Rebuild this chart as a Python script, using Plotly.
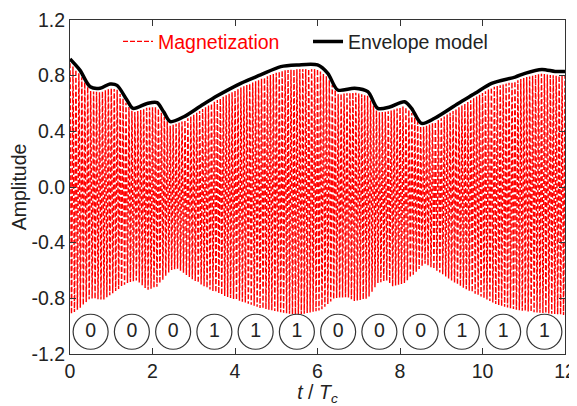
import numpy as np
import plotly.graph_objects as go

# ---- data ----
# Envelope model (black), t / Tc and amplitude
env_t = [0, 0.24, 0.49, 0.73, 0.97, 1.14, 1.38, 1.53, 1.87, 2.11, 2.27, 2.43, 2.76, 3.16, 3.57,
         4.14, 4.62, 5.11, 5.52, 6.0, 6.25, 6.49, 6.9, 7.22, 7.46, 7.75, 8.11, 8.28, 8.52, 8.84,
         9.41, 9.82, 10.22, 10.79, 11.03, 11.44, 11.76, 12.0]
env_v = [0.92, 0.84, 0.72, 0.71, 0.74, 0.73, 0.625, 0.565, 0.60, 0.606, 0.54, 0.47, 0.505, 0.58, 0.655,
         0.745, 0.805, 0.865, 0.877, 0.877, 0.817, 0.697, 0.71, 0.685, 0.565, 0.575, 0.613, 0.565, 0.457, 0.494,
         0.60, 0.673, 0.745, 0.79, 0.817, 0.845, 0.83, 0.83]

# Magnetization: upper peaks (just under the envelope)
top_t = env_t
top_v = [0.89, 0.81, 0.69, 0.68, 0.71, 0.70, 0.595, 0.535, 0.57, 0.576, 0.51, 0.44, 0.475, 0.55, 0.625,
         0.715, 0.775, 0.835, 0.847, 0.847, 0.787, 0.667, 0.68, 0.655, 0.535, 0.545, 0.583, 0.535, 0.427, 0.464,
         0.57, 0.643, 0.715, 0.76, 0.787, 0.815, 0.80, 0.80]
# Magnetization: lower peaks
low_t = [0, 0.24, 0.49, 0.81, 1.05, 1.38, 1.62, 1.87, 2.11, 2.43, 2.6, 3.0, 3.41, 3.81, 4.14, 4.62,
         5.11, 5.52, 6.08, 6.41, 6.73, 6.9, 7.22, 7.46, 7.71, 7.79, 8.11, 8.6, 9.0, 9.41, 9.98, 10.38,
         10.87, 11.27, 12.0]
low_v = [-0.92, -0.87, -0.80, -0.81, -0.76, -0.69, -0.67, -0.74, -0.717, -0.60, -0.585, -0.67, -0.74, -0.79,
         -0.82, -0.87, -0.90, -0.92, -0.885, -0.80, -0.79, -0.82, -0.80, -0.69, -0.67, -0.717, -0.69, -0.55,
         -0.62, -0.705, -0.79, -0.85, -0.885, -0.90, -0.92]
cycles_per_Tc = 14

# bit labels in circles
bit_t = [0.5, 1.5, 2.5, 3.5, 4.5, 5.5, 6.5, 7.5, 8.5, 9.5, 10.5, 11.5]
bits = ["0", "0", "0", "1", "1", "1", "0", "0", "0", "1", "1", "1"]
bit_level = -1.04

y_ticks = [1.2, 0.8, 0.4, 0.0, -0.4, -0.8, -1.2]
y_ticklabels = ["1.2", "0.8", "0.4", "0.0", "-0.4", "-0.8", "-1.2"]
x_ticks = [0, 2, 4, 6, 8, 10, 12]

# ---- build magnetization trace ----
t = np.linspace(0, 12, 12 * cycles_per_Tc * 24 + 1)
up = np.interp(t, top_t, top_v)
lo = np.interp(t, low_t, low_v)
m = (up + lo) / 2 + (up - lo) / 2 * np.cos(2 * np.pi * cycles_per_Tc * t)

FONT = "Liberation Sans, Arial, Helvetica, sans-serif"
FS = 19.5

fig = go.Figure()
fig.add_trace(go.Scatter(
    x=t, y=m, mode="lines",
    name="<span style='color:red'>Magnetization</span>",
    line=dict(color="red", width=1.4, dash="5px,2px"),
))
fig.add_trace(go.Scatter(
    x=env_t, y=env_v, mode="lines",
    name="Envelope model",
    line=dict(color="black", width=3.5, shape="spline", smoothing=0.8),
))
fig.add_trace(go.Scatter(
    x=bit_t, y=[bit_level] * len(bit_t), mode="markers+text",
    text=bits, textposition="middle center",
    textfont=dict(size=FS, color="#222", family=FONT),
    marker=dict(symbol="circle", size=35, color="white", line=dict(color="#333", width=1.2)),
    showlegend=False, hoverinfo="skip",
))

axis_common = dict(
    showline=True, linecolor="#333", linewidth=1, mirror="ticks",
    ticks="inside", ticklen=6, tickcolor="#333", showgrid=False, zeroline=False,
    tickfont=dict(size=FS, family=FONT, color="#222"), automargin=False,
)
fig.update_xaxes(range=[0, 12], tickvals=x_ticks,
                 title=dict(text="<i>t</i> / <i>T<sub>c</sub></i>", font=dict(size=FS, family=FONT, color="#222"), standoff=0),
                 **axis_common)
fig.update_yaxes(range=[-1.2, 1.2], tickvals=y_ticks, ticktext=y_ticklabels,
                 title=dict(text="Amplitude", font=dict(size=FS, family=FONT, color="#222"), standoff=4),
                 **axis_common)

# page body has an 8px margin, so the figure is sized to fit inside the window
fig.update_layout(
    width=569, height=398,
    margin=dict(l=62, r=12, t=12, b=52),
    plot_bgcolor="white", paper_bgcolor="white",
    font=dict(family=FONT, size=FS, color="#222"),
    legend=dict(orientation="h", x=0.097, xanchor="left", y=0.935, yanchor="middle",
                bgcolor="rgba(0,0,0,0)", font=dict(size=FS, family=FONT, color="#222"),
                itemwidth=30, tracegroupgap=0, entrywidth=145, entrywidthmode="pixels"),
)

fig.write_html("out.html")
